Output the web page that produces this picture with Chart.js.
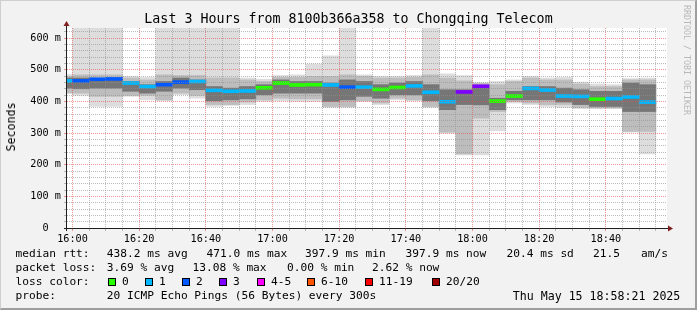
<!DOCTYPE html>
<html>
<head>
<meta charset="utf-8">
<script src="https://cdn.jsdelivr.net/npm/chart.js@4.4.1/dist/chart.umd.min.js"></script>
<style>
  html, body { margin: 0; padding: 0; }
  body { width: 697px; height: 310px; position: relative; overflow: hidden;
         background: #f2f2f2; font-family: "DejaVu Sans Mono", monospace; color: #000; }
  #frame { position: absolute; left: 0; top: 0; width: 697px; height: 310px; box-sizing: border-box;
           border-top: 1px solid #cfcfcf; border-left: 1px solid #cfcfcf;
           border-right: 2px solid #9e9e9e; border-bottom: 2px solid #9e9e9e; }
  #graph { position: absolute; left: 0; top: 0; }
  .t { position: absolute; white-space: pre; font-size: 11.2px; line-height: 14px; }
  #title { position: absolute; left: 0; top: 10px; width: 697px; text-align: center;
           font-size: 13.3px; line-height: 18px; white-space: pre; }
  #ytitle { position: absolute; left: 11px; top: 127px; font-size: 11.6px; line-height: 14px;
            white-space: pre; transform: translate(-50%, -50%) rotate(-90deg); }
  #mark { position: absolute; left: 682px; top: 5px; font-size: 8.3px; line-height: 10px;
          color: #b8b8b8; writing-mode: vertical-rl; white-space: pre; }
  .box { position: absolute; width: 6px; height: 6px; border: 1px solid #000; top: 278px; }
</style>
</head>
<body>
<div id="frame"></div>
<canvas id="graph" width="697" height="310"></canvas>
<div id="title">Last 3 Hours from 8100b366a358 to Chongqing Telecom</div>
<div id="ytitle">Seconds</div>
<div id="mark">RRDTOOL / TOBI OETIKER</div>
<div id="legend"></div>
<script>
// 5 minute slots (start time of each step), first one is cut by the graph start
const slots = ['15:55', '16:00', '16:05', '16:10', '16:15', '16:20', '16:25', '16:30', '16:35',
    '16:40', '16:45', '16:50', '16:55', '17:00', '17:05', '17:10', '17:15', '17:20', '17:25',
    '17:30', '17:35', '17:40', '17:45', '17:50', '17:55', '18:00', '18:05', '18:10', '18:15',
    '18:20', '18:25', '18:30', '18:35', '18:40', '18:45', '18:50'];

// rtt in ms
const medianRtt = [465, 465, 470, 471.0, 458, 447, 453, 461, 463, 435, 432, 433, 443, 458, 452, 453, 452, 445,
    445, 438, 444, 449, 429, 399, 430, 448, 401, 417, 441, 436, 417, 416, 407, 409, 414, 397.9];
const rttMin = [430, 419, 384, 384, 416, 405, 402, 421, 410, 384, 387, 390, 400, 402, 400, 400, 381, 381,
    400, 390, 405, 402, 381, 300, 231, 231, 307, 395, 390, 384, 381, 377, 377, 377, 303, 234];
const rttMax = [485, 640, 640, 640, 479, 476, 640, 640, 640, 640, 640, 474, 470, 482, 484, 518, 544, 640,
    484, 479, 479, 482, 640, 487, 482, 458, 463, 468, 479, 474, 476, 461, 455, 453, 472, 474];
const midLo = [426, 426, 416, 416, 419, 419, 405, 426, 419, 390, 390, 398, 405, 410, 408, 408, 384, 384,
    402, 395, 410, 405, 384, 303, 234, 347, 368, 400, 395, 390, 390, 381, 379, 379, 305, 305];
const midHi = [479, 484, 484, 484, 474, 468, 484, 482, 482, 474, 474, 468, 463, 476, 476, 479, 479, 484,
    479, 474, 474, 476, 484, 474, 465, 458, 453, 463, 474, 468, 468, 455, 447, 447, 468, 468];
const innerLo = [442, 440, 442, 442, 432, 426, 432, 442, 437, 402, 405, 408, 421, 426, 426, 426, 400, 405,
    416, 410, 421, 421, 402, 374, 390, 389, 374, 405, 405, 405, 398, 390, 384, 384, 368, 368];
const innerHi = [474, 474, 468, 472, 463, 453, 463, 474, 468, 447, 442, 447, 453, 468, 463, 463, 458, 468,
    463, 453, 458, 463, 453, 437, 437, 442, 410, 432, 447, 447, 442, 437, 432, 432, 458, 453];
// lost pings out of 20
const lossCount = [1, 2, 2, 2, 1, 1, 2, 2, 1, 1, 1, 1, 0, 0, 0, 0, 1, 2, 1, 0, 0, 1, 1, 1, 3, 3, 0, 0,
    1, 1, 1, 1, 0, 1, 1, 1];

const lossLabels = ['0', '1', '2', '3', '4-5', '6-10', '11-19', '20/20'];
const lossUpper = [0, 1, 2, 3, 5, 10, 19, 20];
const lossColors = ['#26ff00', '#00b8ff', '#0059ff', '#7e00ff', '#ff00ff', '#ff5500', '#ff0000', '#a10000'];

const xTickLabels = ['16:00', '16:20', '16:40', '17:00', '17:20', '17:40', '18:00', '18:20', '18:40'];
const yTickLabels = ['0', '100 m', '200 m', '300 m', '400 m', '500 m', '600 m'];
const graphStart = '15:58:21';
const graphEnd = '18:58:21';
const yMax = 632;

const GRID = 'rgba(143,143,143,0.6)';
const MGRID = 'rgba(222,79,79,0.6)';
const MEDIAN_HALF = 4.7;

function toMin(t) {
    const p = t.split(':').map(Number);
    return (p[0] - 16) * 60 + p[1] + (p[2] || 0) / 60;
}
function lossColor(n) {
    return lossColors[lossUpper.findIndex(u => n <= u)];
}

const xMajor = xTickLabels.map(toMin);
const xGrid = [];
for (let m = 0; m < toMin(graphEnd); m += 5) xGrid.push(m);
const yGrid = [];
for (let v = 0; v < yMax; v += 20) yGrid.push(v);

const pts = (lo, hi) => slots.map((s, i) => ({ x: toMin(s) + 2.5, y: [lo[i], hi[i]] }));
const band = (lo, hi, color, order) => ({
    data: pts(lo, hi), backgroundColor: color, borderWidth: 0,
    grouped: false, barPercentage: 1, categoryPercentage: 1, order: order, clip: 0
});

const rrdPlugin = {
    id: 'rrd',
    beforeDraw(chart) {
        const { ctx, chartArea: a } = chart;
        ctx.save();
        ctx.fillStyle = '#fff';
        ctx.fillRect(a.left, a.top, a.right - a.left, a.bottom - a.top);
        ctx.restore();
    },
    afterDraw(chart) {
        const { ctx, chartArea: a } = chart;
        ctx.save();
        ctx.strokeStyle = '#1f1f1f';
        ctx.lineWidth = 1;
        ctx.beginPath();
        ctx.moveTo(a.left - 3, a.bottom + 0.5);
        ctx.lineTo(a.right + 3, a.bottom + 0.5);
        ctx.moveTo(a.left - 0.5, a.bottom + 3);
        ctx.lineTo(a.left - 0.5, a.top - 3);
        ctx.stroke();
        ctx.fillStyle = '#801f1f';
        ctx.beginPath();
        ctx.moveTo(a.right + 1, a.bottom - 2.5);
        ctx.lineTo(a.right + 6, a.bottom + 0.5);
        ctx.lineTo(a.right + 1, a.bottom + 3.5);
        ctx.fill();
        ctx.beginPath();
        ctx.moveTo(a.left - 3.5, a.top - 2);
        ctx.lineTo(a.left - 0.5, a.top - 7);
        ctx.lineTo(a.left + 2.5, a.top - 2);
        ctx.fill();
        ctx.restore();
    }
};

const tickFont = { family: 'DejaVu Sans Mono', size: 10.2 };
const tickVal = c => (c.tick ? c.tick.value : NaN);

new Chart(document.getElementById('graph'), {
    type: 'bar',
    data: {
        datasets: [
            {
                data: slots.map((s, i) => ({ x: toMin(s) + 2.5, y: [medianRtt[i] - MEDIAN_HALF, medianRtt[i] + MEDIAN_HALF] })),
                backgroundColor: lossCount.map(lossColor), borderWidth: 0,
                grouped: false, barPercentage: 1, categoryPercentage: 1, order: 0, clip: 0
            },
            band(innerLo, innerHi, '#767676', 1),
            band(midLo, midHi, '#bdbdbd', 2),
            band(rttMin, rttMax, '#dddddd', 3)
        ]
    },
    options: {
        responsive: false,
        animation: false,
        layout: { padding: { left: 0, top: 28, right: 30, bottom: 0 } },
        plugins: { legend: { display: false }, tooltip: { enabled: false } },
        scales: {
            x: {
                type: 'linear',
                min: toMin(graphStart),
                max: toMin(graphEnd),
                offset: false,
                afterBuildTicks: s => { s.ticks = xGrid.map(v => ({ value: v })); },
                afterFit: s => { s.height = 82; },
                grid: {
                    z: 1,
                    offset: false,
                    tickLength: 3,
                    color: c => xMajor.includes(tickVal(c)) ? MGRID : GRID
                },
                border: { display: false, dash: [1, 1] },
                ticks: {
                    autoSkip: false, maxRotation: 0, padding: 2,
                    color: '#000', font: tickFont,
                    callback: v => { const i = xMajor.indexOf(v); return i < 0 ? '' : xTickLabels[i]; }
                }
            },
            y: {
                min: 0,
                max: yMax,
                afterBuildTicks: s => { s.ticks = yGrid.map(v => ({ value: v })); },
                afterFit: s => { s.width = 67; },
                grid: {
                    z: 1,
                    tickLength: 3,
                    color: c => tickVal(c) % 100 === 0 ? MGRID : GRID
                },
                border: { display: false, dash: [1, 1] },
                ticks: {
                    autoSkip: false, padding: 3, color: '#000', font: tickFont,
                    callback: v => v % 100 === 0 ? (v === 0 ? yTickLabels[0] + '  ' : yTickLabels[v / 100]) : ''
                }
            }
        }
    },
    plugins: [rrdPlugin]
});

// text lines under the graph
const legend = document.getElementById('legend');
function put(text, x, yc, size) {
    const d = document.createElement('div');
    d.className = 't';
    d.textContent = text;
    d.style.left = x + 'px';
    d.style.top = (yc - 7) + 'px';
    if (size) d.style.fontSize = size + 'px';
    legend.appendChild(d);
}
put('median rtt:', 15.5, 254);
put('438.2 ms avg', 106.8, 254);
put('471.0 ms max', 206.5, 254);
put('397.9 ms min', 305, 254);
put('397.9 ms now', 405.5, 254);
put('20.4 ms sd', 506.5, 254);
put('21.5', 593, 254);
put('am/s', 641, 254);

put('packet loss:', 15.5, 268);
put('3.69 % avg', 106.8, 268);
put('13.08 % max', 192.5, 268);
put('0.00 % min', 287, 268);
put('2.62 % now', 372, 268);

put('loss color:', 15.5, 282);
const boxX = [108, 145, 182, 219, 257, 307, 365, 432];
lossLabels.forEach((l, i) => {
    const b = document.createElement('div');
    b.className = 'box';
    b.style.left = boxX[i] + 'px';
    b.style.background = lossColors[i];
    legend.appendChild(b);
    put(l, boxX[i] + 14, 282);
});

put('probe:', 15.5, 296);
put('20 ICMP Echo Pings (56 Bytes) every 300s', 106.8, 296);
put('Thu May 15 18:58:21 2025', 512.8, 296, 11.6);
</script>
</body>
</html>
